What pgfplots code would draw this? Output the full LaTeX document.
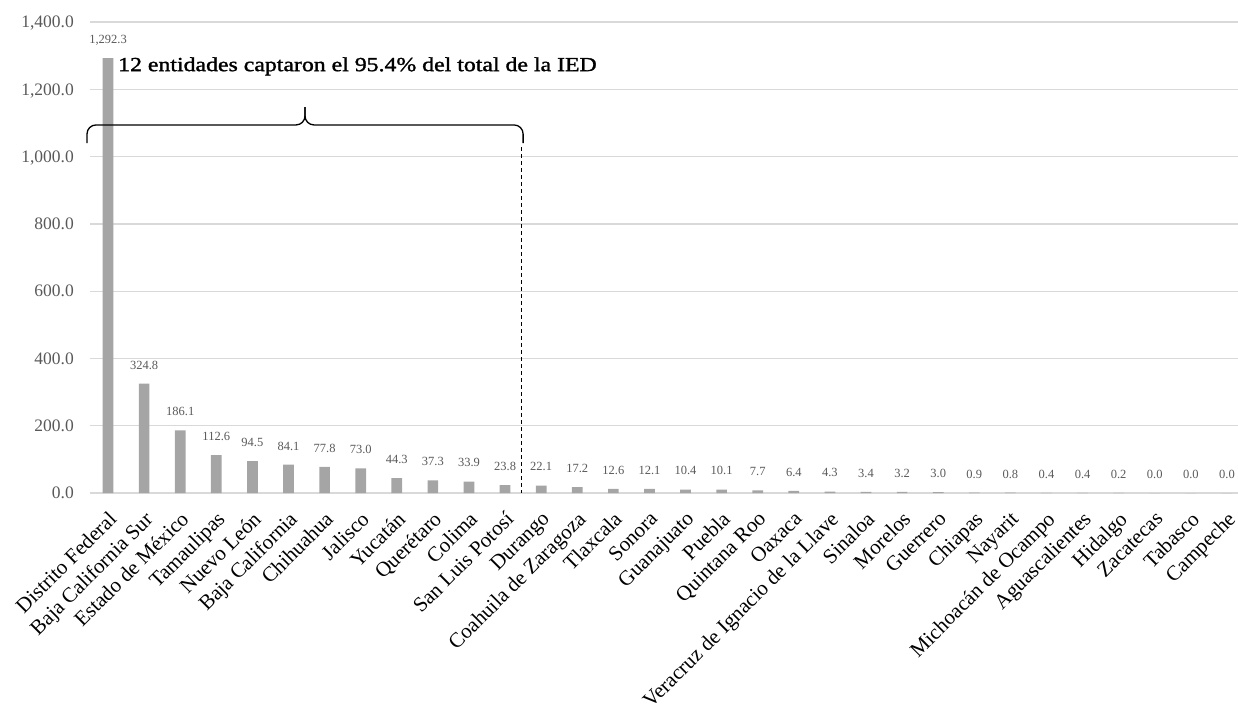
\documentclass[border=0pt]{standalone}
\usepackage{pgfplots}
\pgfplotsset{compat=1.18}
\usepackage{fontspec}
\setmainfont{Liberation Serif}
\newfontfamily\annfont[FakeStretch=1.19,FakeBold=1.5]{Liberation Serif}
\definecolor{bargray}{HTML}{A5A5A5}
\definecolor{gridgray}{HTML}{D9D9D9}
\definecolor{tickgray}{HTML}{595959}
\begin{document}
\begin{tikzpicture}[x=1pt,y=1pt]
\begin{axis}[
  at={(90pt,-493pt)}, anchor=south west,
  width=1155pt, height=471pt, scale only axis,
  xmin=-0.5, xmax=31.5, ymin=0, ymax=1400,
  ybar, bar width=10.7pt,
  axis line style={draw=none},
  tick style={draw=none},
  ymajorgrids, major grid style={draw=gridgray, line width=1.3pt},
  ytick={0,200,...,1400},
  xtick={0,...,31},
  xticklabels={Distrito Federal,Baja California Sur,Estado de México,Tamaulipas,Nuevo León,Baja California,Chihuahua,Jalisco,Yucatán,Querétaro,Colima,San Luis Potosí,Durango,Coahuila de Zaragoza,Tlaxcala,Sonora,Guanajuato,Puebla,Quintana Roo,Oaxaca,Veracruz de Ignacio de la Llave,Sinaloa,Morelos,Guerrero,Chiapas,Nayarit,Michoacán de Ocampo,Aguascalientes,Hidalgo,Zacatecas,Tabasco,Campeche},
  /pgf/number format/fixed, /pgf/number format/fixed zerofill,
  /pgf/number format/precision=1, /pgf/number format/1000 sep={,},
  /pgf/number format/assume math mode=true,
  yticklabel style={font=\fontsize{17.5}{20}\selectfont, text=tickgray, anchor=east, inner sep=0pt, text depth=0pt, xshift=-16pt},
  xticklabel style={font=\fontsize{21}{24}\selectfont, text=black, rotate=45, anchor=north east, inner sep=0pt, yshift=-8.5pt, xshift=-9.5pt},
  nodes near coords,
  nodes near coords style={font=\fontsize{12.5}{14}\selectfont, text=tickgray, anchor=south, inner sep=0pt, text depth=0pt, yshift=14.5pt},
  clip=false,
]
\addplot[fill=bargray, draw=none] coordinates {
(0,1292.3) (1,324.8) (2,186.1) (3,112.6) (4,94.5) (5,84.1) (6,77.8) (7,73.0)
(8,44.3) (9,37.3) (10,33.9) (11,23.8) (12,22.1) (13,17.2) (14,12.6) (15,12.1)
(16,10.4) (17,10.1) (18,7.7) (19,6.4) (20,4.3) (21,3.4) (22,3.2) (23,3.0)
(24,0.9) (25,0.8) (26,0.4) (27,0.4) (28,0.2) (29,0.0) (30,0.0) (31,0.0)
};
\draw[black, line width=1.3pt, rounded corners=9pt] (axis cs:-0.583,1040) -- (axis cs:-0.583,1094) -- (axis cs:5.457,1094) -- (axis cs:5.457,1147);
\draw[black, line width=1.3pt, rounded corners=9pt] (axis cs:5.457,1147) -- (axis cs:5.457,1094) -- (axis cs:11.5,1094) -- (axis cs:11.5,1040);
\draw[black, line width=1.3pt, dash pattern=on 4pt off 3pt] (axis cs:11.45,1028) -- (axis cs:11.45,0);
\node[anchor=base west, inner sep=0pt, font=\annfont\fontsize{20}{24}\selectfont] at (axis cs:0.276,1254) {12 entidades captaron el 95.4\% del total de la IED};
\end{axis}
\pgfresetboundingbox
\useasboundingbox (0,0) rectangle (1238pt,-707pt);
\end{tikzpicture}
\end{document}
